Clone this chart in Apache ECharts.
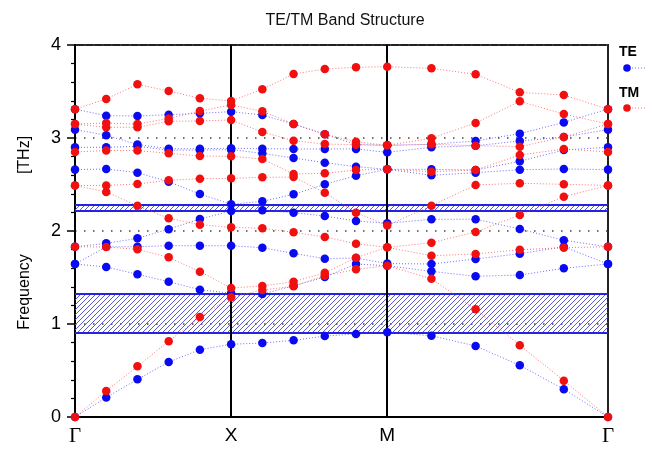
<!DOCTYPE html>
<html><head><meta charset="utf-8">
<script src="https://cdn.jsdelivr.net/npm/echarts@6/dist/echarts.min.js"></script>
<style>html,body{margin:0;padding:0;background:#fff}#c{width:652px;height:450px}</style>
</head><body><div id="c"></div>
<script>
// k-path positions (Γ-X, X-M, M-Γ; path length units)
const kPath = [0, 0.2, 0.4, 0.6, 0.8, 1, 1.2, 1.4, 1.6, 1.8, 2, 2.283, 2.566, 2.849, 3.131, 3.414];
const kTicks = [0, 1, 2, 3.414];
const kLabels = ['Γ', 'X', 'M', 'Γ'];
const yTicks = [0, 1, 2, 3, 4];

// TE bands (blue)
const te1 = [0, 0.21, 0.405, 0.591, 0.724, 0.782, 0.796, 0.824, 0.871, 0.892, 0.911, 0.874, 0.763, 0.556, 0.298, 0];
const te2 = [1.645, 1.613, 1.534, 1.455, 1.369, 1.33, 1.323, 1.41, 1.505, 1.645, 1.627, 1.566, 1.513, 1.527, 1.599, 1.645];
const te3 = [1.645, 1.83, 1.831, 1.842, 1.842, 1.842, 1.82, 1.76, 1.702, 1.71, 1.65, 1.645, 1.699, 1.756, 1.83, 1.645];
const te4 = [1.83, 1.867, 1.921, 2.02, 2.129, 2.215, 2.222, 2.197, 2.161, 2.108, 2.083, 2.126, 2.126, 2.022, 1.9, 1.83];
const te5 = [2.66, 2.667, 2.627, 2.53, 2.398, 2.287, 2.319, 2.394, 2.502, 2.595, 2.663, 2.599, 2.627, 2.659, 2.667, 2.66];
const te6 = [2.90, 2.90, 2.91, 2.87, 2.87, 2.875, 2.835, 2.785, 2.735, 2.692, 2.663, 2.663, 2.656, 2.749, 2.871, 2.90];
const te7 = [3.09, 3.03, 2.93, 2.885, 2.885, 2.89, 2.885, 2.882, 2.882, 2.882, 2.846, 2.90, 2.917, 2.968, 3.011, 3.09];
const te8 = [3.31, 3.24, 3.237, 3.25, 3.265, 3.283, 3.247, 3.15, 3.04, 2.93, 2.921, 2.932, 2.968, 3.047, 3.168, 3.31];

// TM bands (red)
const tm1 = [0, 0.28, 0.545, 0.814, 1.075, 1.287, 1.366, 1.405, 1.52, 1.588, 1.627, 1.487, 1.158, 0.771, 0.391, 0];
const tm2 = [1.83, 1.828, 1.803, 1.717, 1.563, 1.387, 1.409, 1.455, 1.55, 1.713, 1.824, 1.734, 1.753, 1.799, 1.821, 1.83];
const tm3 = [2.49, 2.42, 2.272, 2.136, 2.068, 2.04, 2.029, 1.986, 1.935, 1.864, 1.824, 1.874, 1.99, 2.172, 2.369, 2.49];
const tm4 = [2.49, 2.49, 2.505, 2.545, 2.563, 2.566, 2.577, 2.58, 2.412, 2.197, 2.06, 2.272, 2.495, 2.513, 2.502, 2.49];
const tm5 = [2.85, 2.865, 2.865, 2.835, 2.806, 2.803, 2.774, 2.613, 2.62, 2.656, 2.663, 2.638, 2.656, 2.817, 2.882, 2.85];
const tm6 = [3.15, 3.115, 3.115, 3.18, 3.183, 3.194, 3.065, 2.971, 2.935, 2.928, 2.921, 2.932, 2.917, 2.907, 3.011, 3.15];
const tm7 = [3.15, 3.16, 3.15, 3.21, 3.29, 3.355, 3.287, 3.151, 3.04, 2.96, 2.921, 2.997, 3.161, 3.394, 3.258, 3.15];
const tm8 = [3.31, 3.42, 3.577, 3.505, 3.427, 3.398, 3.523, 3.688, 3.742, 3.76, 3.767, 3.749, 3.685, 3.491, 3.462, 3.31];

// TE band gaps (hatched)
const gap1 = [0.911, 1.323];
const gap2 = [2.218, 2.283];

const teBands = [te1, te2, te3, te4, te5, te6, te7, te8];
const tmBands = [tm1, tm2, tm3, tm4, tm5, tm6, tm7, tm8];

function hatch() {
  const s = 5;
  const c = document.createElement('canvas');
  c.width = s; c.height = s;
  const ctx = c.getContext('2d');
  ctx.strokeStyle = '#4646dc';
  ctx.lineWidth = 0.9;
  ctx.beginPath();
  ctx.moveTo(0, s); ctx.lineTo(s, 0);
  ctx.moveTo(-1, 1); ctx.lineTo(1, -1);
  ctx.moveTo(s - 1, s + 1); ctx.lineTo(s + 1, s - 1);
  ctx.stroke();
  return c;
}

function bandSeries(vals, col, lineCol) {
  return {
    type: 'line', silent: true,
    data: vals.map((v, i) => [kPath[i], v]),
    symbol: 'circle', symbolSize: 8.5, showSymbol: true,
    itemStyle: { color: col },
    lineStyle: { color: lineCol, width: 1, type: [1, 2] },
    z: 5
  };
}

const chart = echarts.init(document.getElementById('c'), null, { renderer: 'canvas' });
const series = [];
series.push({
  type: 'line', data: [], silent: true, z: 2,
  markArea: {
    silent: true,
    itemStyle: { color: { image: hatch(), repeat: 'repeat' }, borderWidth: 0 },
    label: { show: false },
    data: [
      [{ yAxis: gap1[0], xAxis: kPath[0] }, { yAxis: gap1[1], xAxis: kPath[kPath.length - 1] }],
      [{ yAxis: gap2[0], xAxis: kPath[0] }, { yAxis: gap2[1], xAxis: kPath[kPath.length - 1] }]
    ]
  },
  markLine: {
    silent: true, symbol: 'none', label: { show: false },
    lineStyle: { color: '#2424e0', width: 2, type: 'solid' },
    data: [{ yAxis: gap1[0] }, { yAxis: gap1[1] }, { yAxis: gap2[0] }, { yAxis: gap2[1] }]
  }
});
series.push({
  type: 'line', data: [], silent: true, z: 3,
  markLine: {
    silent: true, symbol: 'none', label: { show: false },
    lineStyle: { color: '#000', width: 2, type: 'solid' },
    data: [{ xAxis: kTicks[1] }, { xAxis: kTicks[2] }]
  }
});
teBands.forEach(b => series.push(bandSeries(b, '#0a0af0', 'rgba(60,60,255,0.75)')));
tmBands.forEach(b => series.push(bandSeries(b, '#f01010', 'rgba(255,70,70,0.75)')));

chart.setOption({
  animation: false,
  backgroundColor: '#fff',
  title: {
    text: 'TE/TM Band Structure', left: 340, top: 8, textAlign: 'center',
    textStyle: { fontFamily: 'Liberation Sans, Arial', fontSize: 16, fontWeight: 'normal', color: '#111' }
  },
  grid: { left: 75, right: 44, top: 45, bottom: 33, show: true, borderColor: '#222', borderWidth: 2, backgroundColor: 'transparent' },
  xAxis: {
    type: 'value', min: kTicks[0], max: kTicks[3],
    axisLine: { show: true, lineStyle: { color: '#000', width: 2 } },
    axisTick: { show: false },
    splitLine: { show: false },
    axisLabel: {
      customValues: kTicks, margin: 9,
      formatter: v => {
        let idx = 0, best = 1e9;
        kTicks.forEach((t, i) => { if (Math.abs(t - v) < best) { best = Math.abs(t - v); idx = i; } });
        const s = kLabels[idx];
        return s === 'Γ' ? '{g|' + s + '}' : '{s|' + s + '}';
      },
      rich: {
        g: { fontFamily: 'Liberation Serif, DejaVu Serif, serif', fontSize: 21, color: '#000' },
        s: { fontFamily: 'Liberation Sans, Arial', fontSize: 19, color: '#000' }
      }
    }
  },
  yAxis: {
    type: 'value', min: yTicks[0], max: yTicks[yTicks.length - 1], interval: 1,
    axisLine: { show: true, lineStyle: { color: '#000', width: 2 } },
    axisTick: { show: true, inside: false, length: 8, lineStyle: { color: '#000', width: 1.5 } },
    minorTick: { show: true, splitNumber: 5, length: 4, lineStyle: { color: '#000', width: 1.2 } },
    splitLine: { show: true, lineStyle: { color: '#444', width: 1.5, type: [1.5, 7.5] } },
    axisLabel: { margin: 14, fontFamily: 'Liberation Sans, Arial', fontSize: 18, color: '#000' }
  },
  graphic: [
    { type: 'text', x: 25, y: 292, rotation: Math.PI / 2,
      style: { text: 'Frequency', fill: '#000', font: '16px "Liberation Sans", Arial', textAlign: 'center', textVerticalAlign: 'middle' } },
    { type: 'text', x: 25, y: 155, rotation: Math.PI / 2,
      style: { text: '[THz]', fill: '#000', font: '16px "Liberation Sans", Arial', textAlign: 'center', textVerticalAlign: 'middle' } },
    { type: 'text', x: 619, y: 45, style: { text: 'TE', fill: '#000', font: 'bold 14px "Liberation Sans", Arial' } },
    { type: 'circle', shape: { cx: 627, cy: 68, r: 3.8 }, style: { fill: '#0a0af0' } },
    { type: 'line', shape: { x1: 632, y1: 68, x2: 645, y2: 68 }, style: { stroke: 'rgba(60,60,255,0.75)', lineWidth: 1, lineDash: [1, 2] } },
    { type: 'text', x: 619, y: 86, style: { text: 'TM', fill: '#000', font: 'bold 14px "Liberation Sans", Arial' } },
    { type: 'circle', shape: { cx: 627, cy: 108, r: 3.8 }, style: { fill: '#f01010' } },
    { type: 'line', shape: { x1: 632, y1: 108, x2: 645, y2: 108 }, style: { stroke: 'rgba(255,70,70,0.75)', lineWidth: 1, lineDash: [1, 2] } }
  ],
  series: series
});
</script></body></html>
